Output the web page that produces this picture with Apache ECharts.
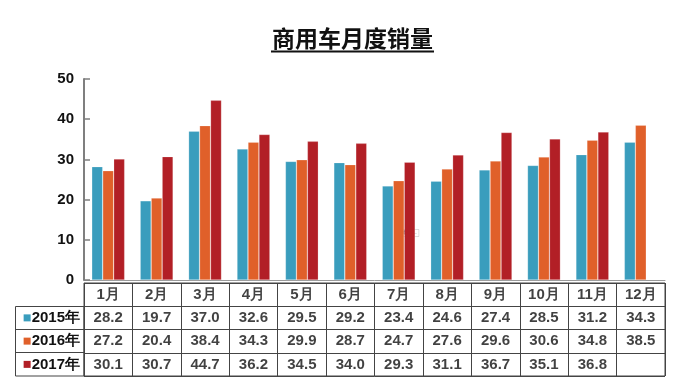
<!DOCTYPE html>
<html><head><meta charset="utf-8">
<script src="https://cdn.jsdelivr.net/npm/echarts@6/dist/echarts.min.js"></script>
<style>html,body{margin:0;padding:0;background:#fff}#c{width:673px;height:386px}</style>
</head><body><div id="c"></div>
<script>
const months = ['1月','2月','3月','4月','5月','6月','7月','8月','9月','10月','11月','12月'];
const seriesNames = ['2015年','2016年','2017年'];
const s2015 = [28.2,19.7,37.0,32.6,29.5,29.2,23.4,24.6,27.4,28.5,31.2,34.3];
const s2016 = [27.2,20.4,38.4,34.3,29.9,28.7,24.7,27.6,29.6,30.6,34.8,38.5];
const s2017 = [30.1,30.7,44.7,36.2,34.5,34.0,29.3,31.1,36.7,35.1,36.8,null];
const yTicks = [0,10,20,30,40,50];

const colors = ['#3a9dbd','#e0602a','#b21f26'];
const allSeries = [s2015, s2016, s2017];
const FONT = '"Liberation Sans", Arial, sans-serif';

const cells = [];
months.forEach((m,i)=>cells.push({value:[i,0,m]}));
allSeries.forEach((arr,r)=>arr.forEach((v,i)=>{ if(v!=null) cells.push({value:[i,r+1,v.toFixed(1)]}); }));

const rich = {t:{fontSize:15,fontWeight:'bold',color:'#111',fontFamily:FONT,padding:[0,0,0,1]}};
colors.forEach((c,k)=>rich['s'+k]={width:7,height:7,backgroundColor:c});

const chart = echarts.init(document.getElementById('c'));
chart.setOption({
  animation:false,
  title:{text:'商用车月度销量',left:267,top:22,textStyle:{fontSize:23,fontWeight:'bold',color:'#111',fontFamily:'"Noto Sans CJK SC", sans-serif'}},
  grid:[
    {left:84,right:8,top:79,bottom:106},
    {left:84,right:8,top:283,height:93,show:true,borderColor:'#444',borderWidth:1}
  ],
  xAxis:[
    {gridIndex:0,type:'category',data:months,axisLabel:{show:false},axisTick:{show:false},axisLine:{lineStyle:{color:'#999',width:1}}},
    {gridIndex:1,type:'category',data:months,axisLabel:{show:false},axisTick:{show:false},axisLine:{show:false},splitLine:{show:true,interval:0,lineStyle:{color:'#444',width:1}}}
  ],
  yAxis:[
    {gridIndex:0,type:'value',min:0,max:50,interval:10,
     axisLine:{show:true,lineStyle:{color:'#7f7f7f',width:2}},
     axisTick:{show:true,inside:true,length:6,lineStyle:{color:'#7f7f7f',width:1.5}},
     splitLine:{show:false},
     axisLabel:{margin:10,fontSize:15,fontWeight:'bold',color:'#111',fontFamily:FONT,
       formatter:v=>yTicks.includes(v)?String(v):''}},
    {gridIndex:1,type:'category',inverse:true,data:['',...seriesNames],
     axisLine:{show:false},axisTick:{show:false},
     splitLine:{show:true,interval:0,lineStyle:{color:'#444',width:1}},
     axisLabel:{margin:4,interval:0,rich:rich,
       formatter:(v,idx)=>idx===0?'':'{s'+(idx-1)+'|}{t|'+v+'}'}}
  ],
  series:[
    ...allSeries.map((arr,k)=>({type:'bar',name:seriesNames[k],xAxisIndex:0,yAxisIndex:0,data:arr,
      barGap:'0%',barCategoryGap:'32%',
      itemStyle:{color:colors[k],borderColor:'rgba(255,255,255,0.35)',borderWidth:0.6}})),
    {type:'scatter',xAxisIndex:1,yAxisIndex:1,data:cells,symbolSize:1,itemStyle:{color:'rgba(0,0,0,0)'},
     label:{show:true,position:'inside',formatter:p=>p.value[2],fontSize:15,fontWeight:'bold',color:'#111',fontFamily:FONT}}
  ],
  graphic:[
    {type:'line',shape:{x1:271,y1:51.5,x2:434,y2:51.5},style:{stroke:'#111',lineWidth:2}},
    {type:'rect',shape:{x:15.5,y:306.5,width:68.5,height:69.5},style:{fill:'none',stroke:'#444',lineWidth:1}},
    {type:'line',shape:{x1:15.5,y1:329.5,x2:84,y2:329.5},style:{stroke:'#444',lineWidth:1}},
    {type:'line',shape:{x1:15.5,y1:352.5,x2:84,y2:352.5},style:{stroke:'#444',lineWidth:1}},
    {type:'text',left:395,top:229,style:{text:'加载中...',fontSize:5,fill:'#333',backgroundColor:'#fff',borderColor:'#bbb',borderWidth:0.5,padding:[1,2]}}
  ]
});
</script></body></html>
